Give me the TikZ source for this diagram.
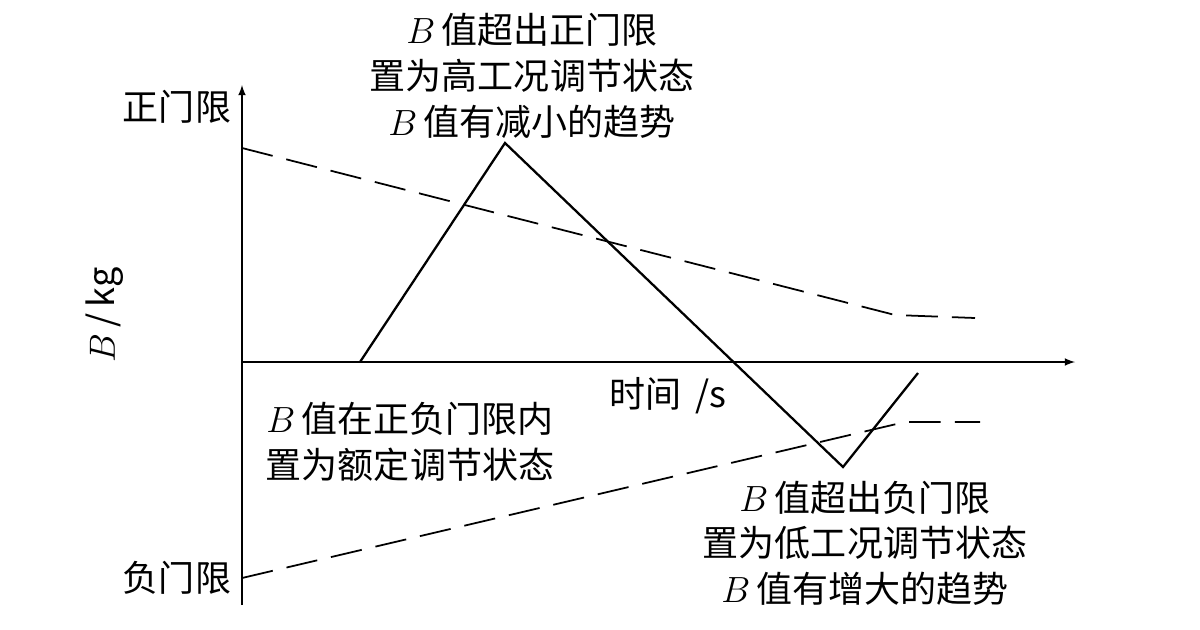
\documentclass[tikz,border=0pt]{standalone}
\usepackage{fontspec}
\newfontfamily\cjk{Noto Sans CJK SC}
\usetikzlibrary{positioning}
\tikzset{
  lbl/.style={font=\cjk\fontsize{20.5}{26}\selectfont, align=center, inner sep=0},
  lim/.style={dash pattern=on 18pt off 8pt, line width=1pt},
  sig/.style={line width=1.3pt},
}
\begin{document}
\begin{tikzpicture}[x=0.02cm, y=-0.02cm]
  \useasboundingbox (0,0) rectangle (1200,629);
  % axes
  \coordinate (o) at (242,362);
  \coordinate (ytop) at (242,85);
  \coordinate (ybot) at (242,605);
  \coordinate (xend) at (1075,362);
  \draw [line width=1pt, -latex] (ybot) -- (ytop);
  \draw [line width=1pt, -latex] (o) -- (xend);
  % limits
  \coordinate (u0) at (242,148);
  \coordinate (u1) at (895,315);
  \coordinate (u2) at (975,318);
  \coordinate (l0) at (242,578);
  \coordinate (l1) at (905,422);
  \coordinate (l2) at (980,422);
  \draw [lim] (u0) -- (u1) -- (u2);
  \draw [lim] (l0) -- (l1) -- (l2);
  % B value
  \coordinate (s0) at (360,362);
  \coordinate (s1) at (505,143);
  \coordinate (s2) at (843,467);
  \coordinate (s3) at (918,373);
  \draw [sig] (s0) -- (s1) -- (s2) -- (s3);
  % texts
  \node (pos) [lbl] at (177,107) {正门限};
  \node (neg) [lbl] at (177,578) {负门限};
  \node (ylab) [lbl, rotate=90] at (105,315) {$B$\,/\,kg};
  \node (xlab) [lbl] at (668,396) {时间\ \,/s};
  \node (hi) [lbl] at (532,76) {$B$\,值超出正门限\\置为高工况调节状态\\$B$\,值有减小的趋势};
  \node (mid) [lbl] at (410,442) {$B$\,值在正负门限内\\置为额定调节状态};
  \node (lo) [lbl] at (865,543) {$B$\,值超出负门限\\置为低工况调节状态\\$B$\,值有增大的趋势};
\end{tikzpicture}
\end{document}
